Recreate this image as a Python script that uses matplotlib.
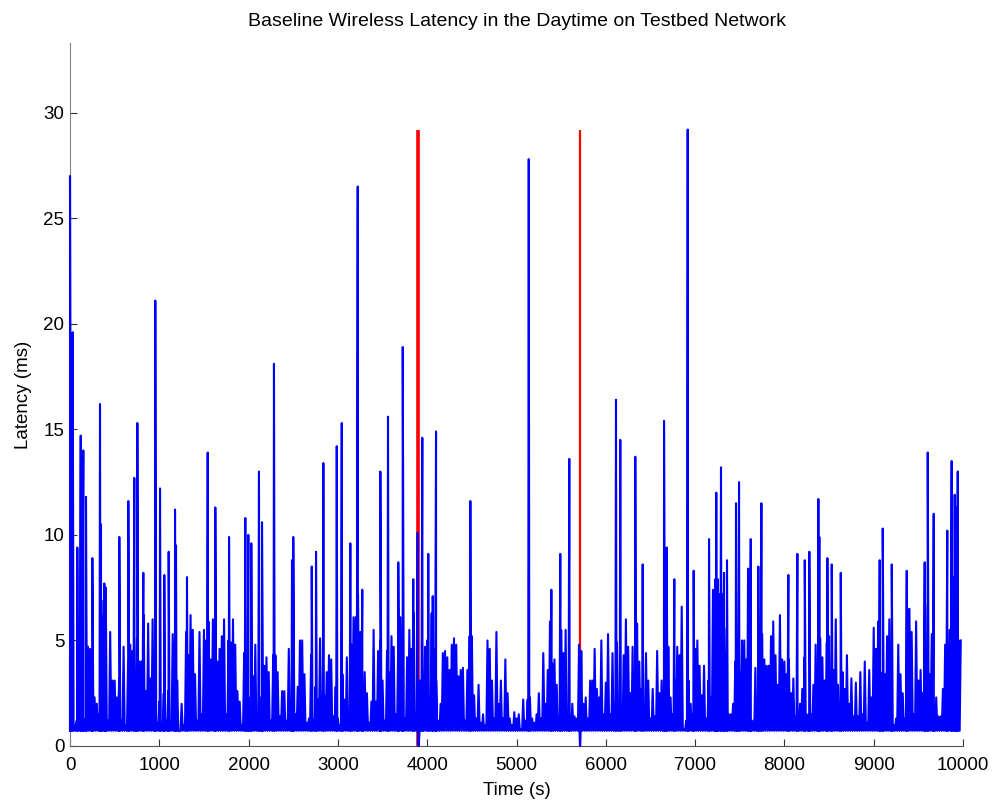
import numpy as np
import matplotlib
matplotlib.use("Agg")
import matplotlib.pyplot as plt

plt.rcParams['font.family'] = ['Liberation Sans', 'DejaVu Sans']

# Low-level latency samples (ms), one every 25 s, 20 values per 500 s
band_ms = [
    4.0, 3.7, 1.0, 1.2, 5.7, 4.5, 1.3, 1.0, 4.7, 4.6, 3.2, 2.3, 2.0, 1.5, 6.9, 6.2, 6.2, 1.2, 5.4, 3.1,
    3.1, 2.3, 3.2, 1.2, 4.7, 1.0, 4.0, 4.8, 4.5, 1.1, 5.1, 4.0, 4.0, 6.2, 2.6, 5.8, 3.2, 6.0, 1.2, 1.1,
    2.1, 1.0, 2.5, 1.2, 2.6, 1.1, 5.3, 4.9, 3.1, 0.7, 2.0, 1.0, 5.4, 4.3, 6.2, 5.5, 3.4, 1.2, 5.4, 1.5,
    5.5, 5.0, 5.9, 4.1, 6.0, 1.3, 4.0, 4.6, 5.2, 6.0, 1.5, 5.0, 4.9, 6.0, 4.8, 2.6, 2.1, 1.0, 4.4, 1.5,
    2.3, 1.2, 3.3, 4.8, 1.3, 2.3, 1.5, 3.8, 4.2, 3.5, 1.2, 4.3, 4.3, 3.5, 1.4, 2.6, 2.6, 1.2, 4.6, 1.5,
    3.6, 1.5, 2.8, 5.0, 5.0, 3.4, 1.1, 1.3, 4.3, 1.2, 2.8, 2.2, 5.1, 2.2, 2.4, 3.5, 4.3, 4.1, 1.4, 2.8,
    1.3, 1.0, 3.4, 2.2, 4.2, 1.2, 4.8, 6.1, 6.1, 7.2, 5.4, 2.9, 3.5, 2.5, 1.1, 2.1, 5.5, 2.1, 4.5, 5.0,
    3.1, 1.2, 4.5, 3.5, 5.2, 4.7, 1.5, 4.8, 6.1, 4.5, 1.3, 4.2, 5.5, 4.6, 6.3, 1.5, 0.0, 3.1, 2.6, 4.7,
    5.0, 1.5, 6.3, 4.6, 3.1, 1.2, 2.0, 4.4, 4.5, 4.2, 3.6, 4.8, 5.1, 4.8, 3.3, 3.6, 3.7, 1.2, 3.6, 5.2,
    5.2, 2.4, 1.3, 2.9, 1.1, 1.5, 1.0, 5.0, 4.6, 3.1, 1.3, 5.4, 2.0, 3.1, 1.3, 4.1, 2.5, 1.3, 1.0, 1.6,
    1.3, 1.5, 0.8, 2.2, 1.2, 2.2, 2.3, 1.3, 1.1, 1.5, 2.5, 1.3, 4.4, 2.0, 3.6, 5.9, 3.9, 4.1, 2.9, 1.4,
    5.5, 4.4, 5.5, 1.5, 1.4, 2.0, 1.4, 1.3, 4.8, 4.5, 2.0, 2.3, 1.3, 3.1, 3.1, 4.6, 2.7, 2.3, 5.0, 1.5,
    3.0, 5.3, 1.5, 4.4, 2.0, 4.9, 1.2, 1.5, 4.3, 6.0, 4.7, 2.5, 4.7, 3.4, 5.8, 4.0, 2.7, 1.3, 4.4, 3.1,
    1.3, 2.7, 1.4, 4.5, 2.5, 3.1, 1.2, 2.7, 4.7, 2.3, 1.5, 3.1, 4.7, 4.3, 6.6, 0.8, 1.2, 3.1, 2.0, 1.5,
    4.6, 5.0, 3.8, 2.4, 3.8, 1.3, 3.1, 2.3, 7.4, 7.9, 5.5, 7.2, 7.2, 5.6, 4.3, 1.5, 1.5, 2.0, 4.0, 2.3,
    3.5, 5.0, 5.0, 4.1, 7.2, 1.2, 1.2, 3.7, 1.9, 4.6, 5.3, 4.1, 3.8, 3.8, 5.2, 5.9, 4.3, 2.9, 6.2, 4.1,
    4.0, 3.4, 4.1, 2.5, 3.2, 1.4, 1.2, 2.0, 2.7, 4.2, 1.5, 1.5, 1.5, 2.9, 4.8, 1.3, 5.1, 4.2, 3.1, 4.9,
    5.2, 2.9, 3.6, 6.0, 2.9, 1.2, 3.5, 2.7, 4.3, 2.0, 3.2, 1.4, 3.0, 1.4, 3.5, 1.5, 4.0, 1.1, 3.6, 2.3,
    5.6, 4.6, 5.9, 1.3, 3.5, 3.4, 5.2, 6.0, 3.8, 1.0, 1.3, 4.8, 3.4, 2.5, 1.3, 6.5, 6.5, 5.4, 1.5, 5.9,
    3.1, 3.6, 2.5, 6.7, 1.3, 3.4, 5.3, 1.4, 2.3, 1.4, 1.4, 2.7, 4.8, 3.3, 5.5, 6.5, 8.0, 5.5, 5.0, 5.0,
]
band_step_s = 25
floor_ms = 0.72

# Isolated high-latency spikes (time s, latency ms)
spike_t = [0, 30, 82, 120, 149, 179, 250, 336, 347, 384, 400, 552, 653, 720, 754, 821, 955,
           1008, 1056, 1105, 1176, 1187, 1310, 1542, 1627, 1781, 1963, 1997, 2030, 2116, 2150,
           2284, 2486, 2500, 2707, 2755, 2837, 2987, 3043, 3139, 3222, 3273, 3475, 3561, 3676,
           3726, 3844, 3893, 3905, 3945, 4012, 4062, 4099, 4483, 5137, 5390, 5490, 5591, 5712,
           6114, 6162, 6330, 6413, 6652, 6682, 6767, 6917, 6984, 7156, 7223, 7237, 7253, 7290,
           7324, 7357, 7458, 7492, 7593, 7623, 7708, 7742, 8044, 8145, 8228, 8279, 8380, 8391,
           8481, 8530, 8631, 9067, 9101, 9202, 9370, 9571, 9605, 9672, 9824, 9873, 9907, 9922,
           9941]
spike_ms = [27.0, 19.6, 9.4, 14.7, 14.0, 11.8, 8.9, 16.2, 10.5, 7.7, 7.5, 9.9, 11.6, 12.7, 15.3,
            8.2, 21.1, 12.2, 8.1, 9.2, 11.2, 9.5, 8.0, 13.9, 11.3, 9.9, 10.8, 10.0, 9.6, 13.0,
            10.6, 18.1, 8.8, 9.9, 8.5, 9.2, 13.4, 14.2, 15.3, 9.6, 26.5, 7.4, 13.0, 15.6, 8.7,
            18.9, 7.9, 10.1, 0.0, 14.6, 9.1, 7.1, 14.9, 11.6, 27.8, 7.4, 9.1, 13.6, 0.0,
            16.4, 14.5, 13.7, 8.6, 15.4, 9.4, 7.9, 29.2, 8.3, 9.8, 7.4, 12.0, 7.9, 13.2,
            8.2, 8.8, 11.5, 12.5, 8.4, 9.8, 8.5, 11.5, 8.1, 9.1, 8.8, 9.2, 11.7, 9.9,
            8.9, 8.6, 8.2, 8.8, 10.3, 8.6, 8.3, 8.7, 13.9, 11.0, 10.2, 13.5, 11.9, 11.3,
            13.0]

# Marked events (red)
event_t = [3895, 5711]
event_ms = [29.2, 29.2]
event_lw = [2.6, 1.6]

# Merge samples and put the floor latency between neighbouring samples
band_t = np.arange(len(band_ms)) * band_step_s
peak_t = np.concatenate([band_t, spike_t]).astype(float)
peak_v = np.concatenate([band_ms, spike_ms])
order = np.argsort(peak_t, kind='stable')
peak_t, peak_v = peak_t[order], peak_v[order]
mid_t = (peak_t[:-1] + peak_t[1:]) / 2
t = np.empty(len(peak_t) + len(mid_t))
v = np.empty_like(t)
t[0::2], v[0::2] = peak_t, peak_v
t[1::2], v[1::2] = mid_t, floor_ms

fig = plt.figure(figsize=(9.93, 8.01), dpi=100)
ax = fig.add_axes([0.0705, 0.0687, 0.8993, 0.8776])

for et, em, lw in zip(event_t, event_ms, event_lw):
    ax.vlines(et, 0, em, color='#ff0000', lw=lw, zorder=1)
ax.plot(t, v, color='#0000ff', lw=1.5, zorder=3, clip_on=False)

ax.set_xlim(0, 10000)
ax.set_ylim(0, 33.3)
ax.set_xticks(np.arange(0, 10001, 1000))
ax.set_yticks([0, 5, 10, 15, 20, 25, 30])

ax.spines['top'].set_visible(False)
ax.spines['right'].set_visible(False)
ax.spines['left'].set_color('#808080')
ax.spines['bottom'].set_color('#555555')
ax.tick_params(direction='in', length=5, width=0.8, color='#333333', labelsize=13.5)
ax.tick_params(axis='x', pad=8)
ax.tick_params(axis='y', pad=4)

ax.set_title('Baseline Wireless Latency in the Daytime on Testbed Network', fontsize=14, pad=12)
ax.set_xlabel('Time (s)', fontsize=13.5, labelpad=6)
ax.set_ylabel('Latency (ms)', fontsize=13.5, labelpad=8)

fig.savefig('out.png', dpi=100)
